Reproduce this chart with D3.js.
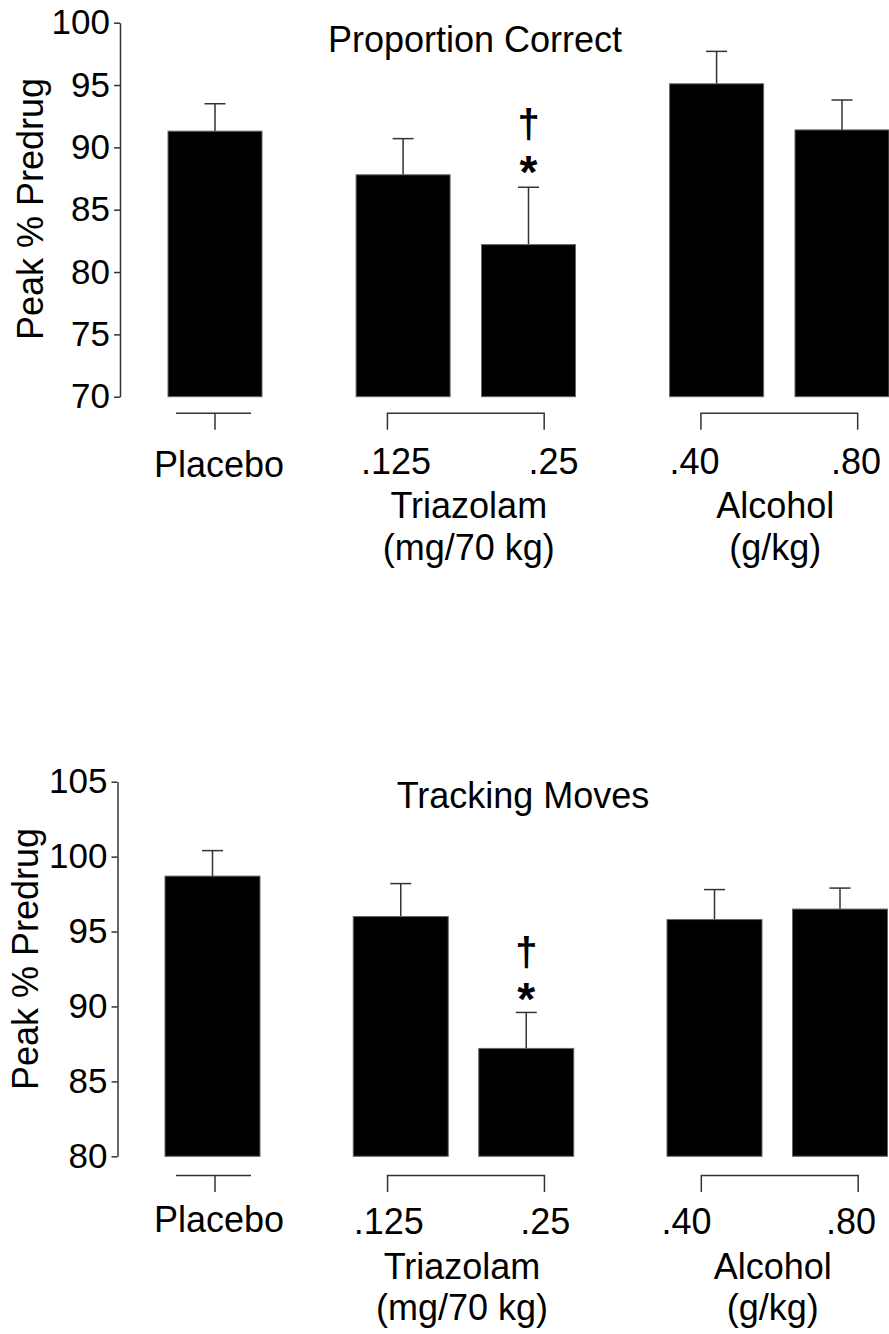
<!DOCTYPE html>
<html>
<head>
<meta charset="utf-8">
<script src="https://cdn.jsdelivr.net/npm/d3@7"></script>
<style>
  html, body { margin: 0; padding: 0; background: #fff; }
  svg { display: block; }
  text { font-family: "Liberation Sans", Arial, Helvetica, sans-serif; fill: #000; }
</style>
</head>
<body>
<svg id="chart" width="889" height="1334"></svg>
<script>
// ---------------- data ----------------
const categories = ["Placebo", ".125", ".25", ".40", ".80"];
const slots = [0, 3, 5, 8, 10];

const pcMean = [91.3, 87.8, 82.2, 95.1, 91.4];
const pcSem  = [2.2, 2.9, 4.6, 2.6, 2.4];
const pcTicks = [70, 75, 80, 85, 90, 95, 100];

const tmMean = [98.7, 96.0, 87.2, 95.8, 96.5];
const tmSem  = [1.7, 2.2, 2.4, 2.0, 1.4];
const tmTicks = [80, 85, 90, 95, 100, 105];

const groupNames = ["Triazolam", "Alcohol"];
const groupUnits = ["(mg/70 kg)", "(g/kg)"];
const groupMembers = [[1, 2], [3, 4]];

const sigIndex = 2;
const sigMarks = ["†", "*"];

const titles = ["Proportion Correct", "Tracking Moves"];
const yTitle = "Peak % Predrug";

// ---------------- layout ----------------
const panels = [
  {
    title: titles[0], mean: pcMean, sem: pcSem, ticks: pcTicks,
    yRange: [396.7, 22.7], x0: 215, x10: 842, axisX: 120, barW: 94,
    titleX: 475, titleY: 51.7, yTitleX: 42.7, yTitleY: 209,
    bracketY: 413.3, bracketDx: 0,
    placeboY: 477, doseY: 474, groupY: 518, unitY: 560,
    doseDx: [4, -7, 25, -22, 14], groupDx: [3, -4],
    daggerY: 138, starY: 188
  },
  {
    title: titles[1], mean: tmMean, sem: tmSem, ticks: tmTicks,
    yRange: [1156.3, 781.7], x0: 212.5, x10: 840, axisX: 117.5, barW: 95,
    titleX: 523, titleY: 808.3, yTitleX: 38.3, yTitleY: 959,
    bracketY: 1175.5, bracketDx: 2.5,
    placeboY: 1232, doseY: 1234, groupY: 1279, unitY: 1320,
    doseDx: [6.5, -12, 19, -28, 11], groupDx: [-4, -7],
    daggerY: 966, starY: 1015
  }
];

const svg = d3.select("#chart");

panels.forEach(p => {
  const g = svg.append("g");
  const y = d3.scaleLinear().domain([p.ticks[0], p.ticks[p.ticks.length - 1]]).range(p.yRange);
  const x = d3.scaleLinear().domain([0, 10]).range([p.x0, p.x10]);

  // y axis
  const axis = d3.axisLeft(y).tickValues(p.ticks).tickSize(6).tickSizeOuter(0).tickPadding(4);
  const ag = g.append("g").attr("transform", `translate(${p.axisX},0)`).call(axis);
  ag.select(".domain").attr("stroke", "#333").attr("stroke-width", 1.5);
  ag.selectAll(".tick line").attr("stroke", "#333").attr("stroke-width", 1.5);
  ag.selectAll(".tick text")
    .style("font-family", '"Liberation Sans", Arial, sans-serif')
    .style("font-size", "35px").attr("fill", "#000");

  // y title
  g.append("text")
    .attr("transform", `translate(${p.yTitleX},${p.yTitleY}) rotate(-90)`)
    .attr("text-anchor", "middle")
    .style("font-size", "36px")
    .text(yTitle);

  // title
  g.append("text")
    .attr("x", p.titleX).attr("y", p.titleY)
    .attr("text-anchor", "middle")
    .style("font-size", "36px")
    .text(p.title);

  const base = p.ticks[0];
  const data = categories.map((c, i) => ({ c, i, slot: slots[i], m: p.mean[i], s: p.sem[i] }));

  // error bars (drawn first, bar covers lower part)
  const capW = 21;
  data.forEach(d => {
    const cx = x(d.slot);
    g.append("line")
      .attr("x1", cx).attr("x2", cx)
      .attr("y1", y(d.m)).attr("y2", y(d.m + d.s))
      .attr("stroke", "#333").attr("stroke-width", 1.5);
    g.append("line")
      .attr("x1", cx - capW / 2).attr("x2", cx + capW / 2)
      .attr("y1", y(d.m + d.s)).attr("y2", y(d.m + d.s))
      .attr("stroke", "#333").attr("stroke-width", 1.5);
  });

  // bars
  g.selectAll("rect.bar").data(data).enter().append("rect")
    .attr("class", "bar")
    .attr("x", d => x(d.slot) - p.barW / 2)
    .attr("width", p.barW)
    .attr("y", d => y(d.m))
    .attr("height", d => y(base) - y(d.m))
    .attr("fill", "#000")
    .attr("stroke", "#666")
    .attr("stroke-width", 1);

  // significance marks
  const sx = x(slots[sigIndex]);
  g.append("text").attr("x", sx).attr("y", p.daggerY)
    .attr("text-anchor", "middle").style("font-size", "40px").style("font-weight", "bold").text(sigMarks[0]);
  g.append("text").attr("x", sx).attr("y", p.starY)
    .attr("text-anchor", "middle").style("font-size", "46px").style("font-weight", "bold").text(sigMarks[1]);

  // brackets
  const by = p.bracketY, drop = 16.5;
  // placebo: T shape
  const px = x(slots[0]) + p.bracketDx;
  g.append("line").attr("x1", px - 39).attr("x2", px + 36).attr("y1", by).attr("y2", by)
    .attr("stroke", "#333").attr("stroke-width", 1.5);
  g.append("line").attr("x1", px).attr("x2", px).attr("y1", by).attr("y2", by + drop)
    .attr("stroke", "#333").attr("stroke-width", 1.5);
  // groups: bracket shape
  groupMembers.forEach((mem, gi) => {
    const xa = x(slots[mem[0]] - 0.25) + p.bracketDx;
    const xb = x(slots[mem[1]] + 0.25) + p.bracketDx;
    g.append("path")
      .attr("d", `M${xa},${by + drop}V${by}H${xb}V${by + drop}`)
      .attr("fill", "none").attr("stroke", "#333").attr("stroke-width", 1.5);
    const cx = (xa + xb) / 2 + p.groupDx[gi];
    g.append("text").attr("x", cx).attr("y", p.groupY)
      .attr("text-anchor", "middle").style("font-size", "36px").text(groupNames[gi]);
    g.append("text").attr("x", cx).attr("y", p.unitY)
      .attr("text-anchor", "middle").style("font-size", "36px").text(groupUnits[gi]);
  });

  // category labels
  data.forEach(d => {
    g.append("text")
      .attr("x", x(d.slot) + p.doseDx[d.i])
      .attr("y", d.i === 0 ? p.placeboY : p.doseY)
      .attr("text-anchor", "middle")
      .style("font-size", "36px")
      .text(d.c);
  });
});
</script>
</body>
</html>
